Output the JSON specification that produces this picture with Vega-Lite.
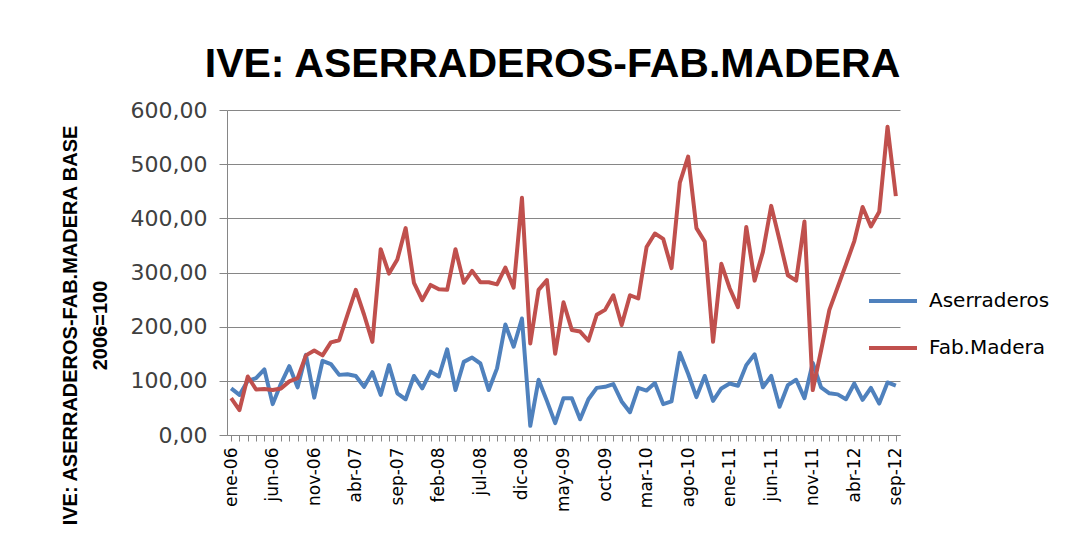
{
  "$schema": "https://vega.github.io/schema/vega-lite/v6.json",
  "width": 673,
  "height": 325,
  "autosize": {"type": "none"},
  "padding": {"left": 227, "top": 110, "right": 182, "bottom": 115},
  "background": "white",
  "config": {"view": {"stroke": null}, "font": "DejaVu Sans"},
  "title": {"text": "IVE: ASERRADEROS-FAB.MADERA", "font": "Liberation Sans", "fontSize": 41, "fontWeight": "bold", "color": "#000000", "anchor": "middle", "frame": "group", "dx": -11, "offset": -19, "baseline": "alphabetic"},
  "data": {"values": [
    {"mes":"ene-06","serie":"Aserraderos","valor":86},{"mes":"feb-06","serie":"Aserraderos","valor":74},{"mes":"mar-06","serie":"Aserraderos","valor":100},{"mes":"abr-06","serie":"Aserraderos","valor":105},{"mes":"may-06","serie":"Aserraderos","valor":121},{"mes":"jun-06","serie":"Aserraderos","valor":57},{"mes":"jul-06","serie":"Aserraderos","valor":95},{"mes":"ago-06","serie":"Aserraderos","valor":127},{"mes":"sep-06","serie":"Aserraderos","valor":88},{"mes":"oct-06","serie":"Aserraderos","valor":148},{"mes":"nov-06","serie":"Aserraderos","valor":69},{"mes":"dic-06","serie":"Aserraderos","valor":137},
    {"mes":"ene-07","serie":"Aserraderos","valor":131},{"mes":"feb-07","serie":"Aserraderos","valor":111},{"mes":"mar-07","serie":"Aserraderos","valor":112},{"mes":"abr-07","serie":"Aserraderos","valor":109},{"mes":"may-07","serie":"Aserraderos","valor":89},{"mes":"jun-07","serie":"Aserraderos","valor":116},{"mes":"jul-07","serie":"Aserraderos","valor":74},{"mes":"ago-07","serie":"Aserraderos","valor":129},{"mes":"sep-07","serie":"Aserraderos","valor":77},{"mes":"oct-07","serie":"Aserraderos","valor":66},{"mes":"nov-07","serie":"Aserraderos","valor":109},{"mes":"dic-07","serie":"Aserraderos","valor":86},
    {"mes":"ene-08","serie":"Aserraderos","valor":117},{"mes":"feb-08","serie":"Aserraderos","valor":108},{"mes":"mar-08","serie":"Aserraderos","valor":158},{"mes":"abr-08","serie":"Aserraderos","valor":83},{"mes":"may-08","serie":"Aserraderos","valor":135},{"mes":"jun-08","serie":"Aserraderos","valor":143},{"mes":"jul-08","serie":"Aserraderos","valor":132},{"mes":"ago-08","serie":"Aserraderos","valor":83},{"mes":"sep-08","serie":"Aserraderos","valor":123},{"mes":"oct-08","serie":"Aserraderos","valor":204},{"mes":"nov-08","serie":"Aserraderos","valor":163},{"mes":"dic-08","serie":"Aserraderos","valor":215},
    {"mes":"ene-09","serie":"Aserraderos","valor":17},{"mes":"feb-09","serie":"Aserraderos","valor":102},{"mes":"mar-09","serie":"Aserraderos","valor":63},{"mes":"abr-09","serie":"Aserraderos","valor":22},{"mes":"may-09","serie":"Aserraderos","valor":68},{"mes":"jun-09","serie":"Aserraderos","valor":68},{"mes":"jul-09","serie":"Aserraderos","valor":29},{"mes":"ago-09","serie":"Aserraderos","valor":66},{"mes":"sep-09","serie":"Aserraderos","valor":87},{"mes":"oct-09","serie":"Aserraderos","valor":89},{"mes":"nov-09","serie":"Aserraderos","valor":94},{"mes":"dic-09","serie":"Aserraderos","valor":62},
    {"mes":"ene-10","serie":"Aserraderos","valor":42},{"mes":"feb-10","serie":"Aserraderos","valor":87},{"mes":"mar-10","serie":"Aserraderos","valor":82},{"mes":"abr-10","serie":"Aserraderos","valor":96},{"mes":"may-10","serie":"Aserraderos","valor":57},{"mes":"jun-10","serie":"Aserraderos","valor":62},{"mes":"jul-10","serie":"Aserraderos","valor":152},{"mes":"ago-10","serie":"Aserraderos","valor":113},{"mes":"sep-10","serie":"Aserraderos","valor":70},{"mes":"oct-10","serie":"Aserraderos","valor":109},{"mes":"nov-10","serie":"Aserraderos","valor":63},{"mes":"dic-10","serie":"Aserraderos","valor":86},
    {"mes":"ene-11","serie":"Aserraderos","valor":95},{"mes":"feb-11","serie":"Aserraderos","valor":91},{"mes":"mar-11","serie":"Aserraderos","valor":129},{"mes":"abr-11","serie":"Aserraderos","valor":149},{"mes":"may-11","serie":"Aserraderos","valor":88},{"mes":"jun-11","serie":"Aserraderos","valor":109},{"mes":"jul-11","serie":"Aserraderos","valor":52},{"mes":"ago-11","serie":"Aserraderos","valor":92},{"mes":"sep-11","serie":"Aserraderos","valor":102},{"mes":"oct-11","serie":"Aserraderos","valor":68},{"mes":"nov-11","serie":"Aserraderos","valor":133},{"mes":"dic-11","serie":"Aserraderos","valor":88},
    {"mes":"ene-12","serie":"Aserraderos","valor":77},{"mes":"feb-12","serie":"Aserraderos","valor":75},{"mes":"mar-12","serie":"Aserraderos","valor":66},{"mes":"abr-12","serie":"Aserraderos","valor":95},{"mes":"may-12","serie":"Aserraderos","valor":65},{"mes":"jun-12","serie":"Aserraderos","valor":87},{"mes":"jul-12","serie":"Aserraderos","valor":58},{"mes":"ago-12","serie":"Aserraderos","valor":97},{"mes":"sep-12","serie":"Aserraderos","valor":91},
    {"mes":"ene-06","serie":"Fab.Madera","valor":68},{"mes":"feb-06","serie":"Fab.Madera","valor":46},{"mes":"mar-06","serie":"Fab.Madera","valor":108},{"mes":"abr-06","serie":"Fab.Madera","valor":84},{"mes":"may-06","serie":"Fab.Madera","valor":85},{"mes":"jun-06","serie":"Fab.Madera","valor":83},{"mes":"jul-06","serie":"Fab.Madera","valor":86},{"mes":"ago-06","serie":"Fab.Madera","valor":99},{"mes":"sep-06","serie":"Fab.Madera","valor":105},{"mes":"oct-06","serie":"Fab.Madera","valor":147},{"mes":"nov-06","serie":"Fab.Madera","valor":156},{"mes":"dic-06","serie":"Fab.Madera","valor":147},
    {"mes":"ene-07","serie":"Fab.Madera","valor":171},{"mes":"feb-07","serie":"Fab.Madera","valor":175},{"mes":"mar-07","serie":"Fab.Madera","valor":222},{"mes":"abr-07","serie":"Fab.Madera","valor":268},{"mes":"may-07","serie":"Fab.Madera","valor":222},{"mes":"jun-07","serie":"Fab.Madera","valor":172},{"mes":"jul-07","serie":"Fab.Madera","valor":343},{"mes":"ago-07","serie":"Fab.Madera","valor":298},{"mes":"sep-07","serie":"Fab.Madera","valor":324},{"mes":"oct-07","serie":"Fab.Madera","valor":382},{"mes":"nov-07","serie":"Fab.Madera","valor":281},{"mes":"dic-07","serie":"Fab.Madera","valor":249},
    {"mes":"ene-08","serie":"Fab.Madera","valor":277},{"mes":"feb-08","serie":"Fab.Madera","valor":269},{"mes":"mar-08","serie":"Fab.Madera","valor":268},{"mes":"abr-08","serie":"Fab.Madera","valor":343},{"mes":"may-08","serie":"Fab.Madera","valor":281},{"mes":"jun-08","serie":"Fab.Madera","valor":303},{"mes":"jul-08","serie":"Fab.Madera","valor":282},{"mes":"ago-08","serie":"Fab.Madera","valor":282},{"mes":"sep-08","serie":"Fab.Madera","valor":278},{"mes":"oct-08","serie":"Fab.Madera","valor":309},{"mes":"nov-08","serie":"Fab.Madera","valor":272},{"mes":"dic-08","serie":"Fab.Madera","valor":438},
    {"mes":"ene-09","serie":"Fab.Madera","valor":169},{"mes":"feb-09","serie":"Fab.Madera","valor":268},{"mes":"mar-09","serie":"Fab.Madera","valor":286},{"mes":"abr-09","serie":"Fab.Madera","valor":150},{"mes":"may-09","serie":"Fab.Madera","valor":245},{"mes":"jun-09","serie":"Fab.Madera","valor":194},{"mes":"jul-09","serie":"Fab.Madera","valor":191},{"mes":"ago-09","serie":"Fab.Madera","valor":174},{"mes":"sep-09","serie":"Fab.Madera","valor":222},{"mes":"oct-09","serie":"Fab.Madera","valor":231},{"mes":"nov-09","serie":"Fab.Madera","valor":258},{"mes":"dic-09","serie":"Fab.Madera","valor":203},
    {"mes":"ene-10","serie":"Fab.Madera","valor":258},{"mes":"feb-10","serie":"Fab.Madera","valor":252},{"mes":"mar-10","serie":"Fab.Madera","valor":347},{"mes":"abr-10","serie":"Fab.Madera","valor":372},{"mes":"may-10","serie":"Fab.Madera","valor":362},{"mes":"jun-10","serie":"Fab.Madera","valor":308},{"mes":"jul-10","serie":"Fab.Madera","valor":466},{"mes":"ago-10","serie":"Fab.Madera","valor":514},{"mes":"sep-10","serie":"Fab.Madera","valor":382},{"mes":"oct-10","serie":"Fab.Madera","valor":357},{"mes":"nov-10","serie":"Fab.Madera","valor":172},{"mes":"dic-10","serie":"Fab.Madera","valor":316},
    {"mes":"ene-11","serie":"Fab.Madera","valor":271},{"mes":"feb-11","serie":"Fab.Madera","valor":236},{"mes":"mar-11","serie":"Fab.Madera","valor":384},{"mes":"abr-11","serie":"Fab.Madera","valor":285},{"mes":"may-11","serie":"Fab.Madera","valor":338},{"mes":"jun-11","serie":"Fab.Madera","valor":423},{"mes":"jul-11","serie":"Fab.Madera","valor":360},{"mes":"ago-11","serie":"Fab.Madera","valor":295},{"mes":"sep-11","serie":"Fab.Madera","valor":285},{"mes":"oct-11","serie":"Fab.Madera","valor":394},{"mes":"nov-11","serie":"Fab.Madera","valor":83},{"mes":"dic-11","serie":"Fab.Madera","valor":156},
    {"mes":"ene-12","serie":"Fab.Madera","valor":231},{"mes":"feb-12","serie":"Fab.Madera","valor":273},{"mes":"mar-12","serie":"Fab.Madera","valor":315},{"mes":"abr-12","serie":"Fab.Madera","valor":358},{"mes":"may-12","serie":"Fab.Madera","valor":421},{"mes":"jun-12","serie":"Fab.Madera","valor":385},{"mes":"jul-12","serie":"Fab.Madera","valor":412},{"mes":"ago-12","serie":"Fab.Madera","valor":569},{"mes":"sep-12","serie":"Fab.Madera","valor":441}
  ]},
  "mark": {"type": "line", "strokeWidth": 4, "strokeJoin": "round"},
  "encoding": {
    "x": {
      "field": "mes", "type": "ordinal", "sort": null,
      "scale": {"type": "point", "padding": 0.5},
      "axis": {
        "title": null, "grid": false,
        "labelAngle": -90, "labelAlign": "right", "labelBaseline": "middle",
        "labelFont": "DejaVu Sans", "labelFontSize": 17, "labelColor": "#000000",
        "labelPadding": 6, "tickSize": 6, "tickColor": "#868686", "domainColor": "#868686",
        "labelOverlap": false,
        "labelExpr": "indexof(['ene-06','jun-06','nov-06','abr-07','sep-07','feb-08','jul-08','dic-08','may-09','oct-09','mar-10','ago-10','ene-11','jun-11','nov-11','abr-12','sep-12'], datum.value) >= 0 ? datum.value : ''"
      }
    },
    "y": {
      "field": "valor", "type": "quantitative",
      "scale": {"domain": [0, 600], "nice": false},
      "axis": {
        "values": [0, 100, 200, 300, 400, 500, 600],
        "labelExpr": "replace(format(datum.value, '.2f'), '.', ',')",
        "labelFont": "DejaVu Sans", "labelFontSize": 22, "labelColor": "#404040",
        "tickSize": 8, "labelPadding": 12,
        "tickColor": "#868686", "domainColor": "#868686", "gridColor": "#868686", "gridWidth": 1,
        "title": ["IVE: ASERRADEROS-FAB.MADERA BASE", "2006=100"],
        "titleFont": "Liberation Sans", "titleFontSize": 20, "titleFontWeight": "bold", "titleColor": "#000000",
        "titleAngle": 270, "titleX": -157, "titleY": 215, "titleAlign": "center", "titleBaseline": "middle", "titleLineHeight": 30
      }
    },
    "color": {
      "field": "serie", "type": "nominal",
      "scale": {"domain": ["Aserraderos", "Fab.Madera"], "range": ["#4F81BD", "#C0504D"]},
      "legend": {
        "title": null, "orient": "none", "legendX": 640, "legendY": 165,
        "symbolType": "stroke", "symbolSize": 2304, "symbolStrokeWidth": 4,
        "labelFont": "DejaVu Sans", "labelFontSize": 20, "labelColor": "#000000",
        "labelOffset": 10, "rowPadding": 11
      }
    }
  }
}
